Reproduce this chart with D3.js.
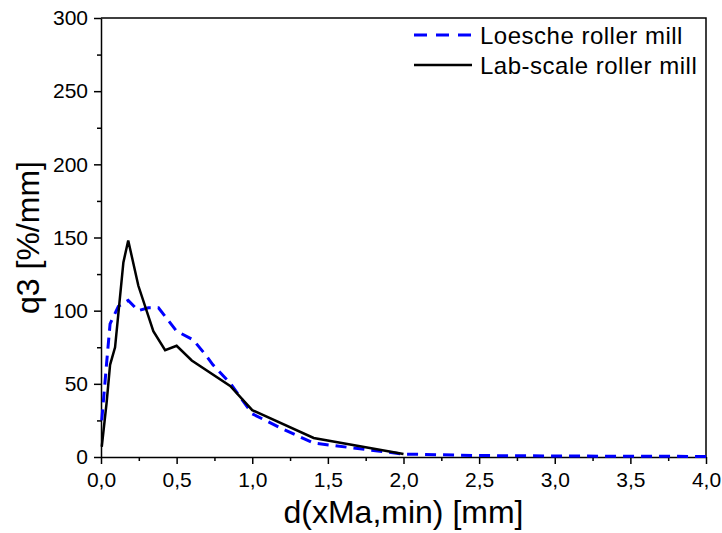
<!DOCTYPE html>
<html>
<head>
<meta charset="utf-8">
<script src="https://cdn.jsdelivr.net/npm/d3@7"></script>
<style>
	body { margin: 0; background: #fff; }
	svg text { font-family: "Liberation Sans", Arial, sans-serif; fill: #000; }
</style>
</head>
<body>
<div id="chart"></div>
<script>

// data
// ----------------------------------------

var loesche_d = [0.005, 0.037, 0.06, 0.115, 0.18, 0.247, 0.313, 0.38, 0.5, 0.61, 0.69, 0.74, 0.854, 1.0, 1.185, 1.406, 1.76, 2.0, 2.5, 3.0, 3.5, 4.0];
var loesche_q = [25, 64, 91, 103, 107, 100, 102, 102, 86, 80, 70, 63, 50.5, 29.5, 20, 9.5, 5, 2, 1, 0.7, 0.5, 0.4];

var lab_d = [0.005, 0.037, 0.06, 0.093, 0.148, 0.18, 0.247, 0.346, 0.424, 0.5, 0.6, 0.854, 1.0, 1.406, 2.0];
var lab_q = [7, 37, 63, 75, 133, 148, 117, 86, 73, 76, 66, 48.5, 32, 13, 2];

var x_ticks = [0, 0.5, 1, 1.5, 2, 2.5, 3, 3.5, 4];
var y_ticks = [0, 50, 100, 150, 200, 250, 300];

var series = [
	{name: "Loesche roller mill", d: loesche_d, q: loesche_q, color: "#0000ff", dash: "11,7", width: 3},
	{name: "Lab-scale roller mill", d: lab_d, q: lab_q, color: "#000000", dash: null, width: 2.5}
];

// main variables
// ----------------------------------------

var width = 722,
	height = 533;

var margin = {top: 18, right: 16, bottom: 76, left: 101};

dataviz();

function dataviz(){

	var svg = d3.select("#chart")
		.append("svg")
		.attr("width", width)
		.attr("height", height)

	var x = d3.scaleLinear().domain([0, 4]).range([margin.left, width - margin.right]);
	var y = d3.scaleLinear().domain([0, 300]).range([height - margin.bottom, margin.top]);

	var comma = function(v){ return d3.format(".1f")(v).replace(".", ","); }

	// minor ticks
	var x_minor = d3.range(0.25, 4, 0.5);
	var y_minor = d3.range(25, 300, 50);

	svg.append("g")
		.attr("transform", "translate(0," + y(0) + ")")
		.call(d3.axisBottom(x).tickValues(x_minor).tickSize(4).tickFormat(""))
		.call(function(g){ g.select(".domain").remove(); })
		.selectAll("line").attr("stroke-width", 1.5)

	svg.append("g")
		.attr("transform", "translate(" + x(0) + ",0)")
		.call(d3.axisLeft(y).tickValues(y_minor).tickSize(4).tickFormat(""))
		.call(function(g){ g.select(".domain").remove(); })
		.selectAll("line").attr("stroke-width", 1.5)

	// major axes
	var xa = svg.append("g")
		.attr("class", "x_axis")
		.attr("transform", "translate(0," + y(0) + ")")
		.call(d3.axisBottom(x).tickValues(x_ticks).tickSize(7).tickSizeOuter(0).tickPadding(8).tickFormat(comma))
	xa.selectAll("text").attr("font-size", 21)
	xa.selectAll("line").attr("stroke-width", 1.5)
	xa.select(".domain").attr("stroke-width", 1.5)

	var ya = svg.append("g")
		.attr("class", "y_axis")
		.attr("transform", "translate(" + x(0) + ",0)")
		.call(d3.axisLeft(y).tickValues(y_ticks).tickSize(7).tickSizeOuter(0).tickPadding(6))
	ya.selectAll("text").attr("font-size", 21)
	ya.selectAll("line").attr("stroke-width", 1.5)
	ya.select(".domain").attr("stroke-width", 1.5)

	// frame top / right
	svg.append("path")
		.attr("d", "M" + x(0) + "," + y(300) + "H" + x(4) + "V" + y(0))
		.attr("fill", "none")
		.attr("stroke", "#000")
		.attr("stroke-width", 1.5)

	// lines
	var line = d3.line()
		.x(function(d){ return x(d[0]); })
		.y(function(d){ return y(d[1]); })

	var plot = svg.append("g").attr("id", "d3_plot")

	series.forEach(function(s){
		var pts = s.d.map(function(v, i){ return [v, s.q[i]]; });
		plot.append("path")
			.datum(pts)
			.attr("d", line)
			.attr("fill", "none")
			.attr("stroke", s.color)
			.attr("stroke-width", s.width)
			.attr("stroke-dasharray", s.dash)
			.attr("stroke-linejoin", "miter")
	})

	// legend
	var legend = svg.append("g").attr("class", "legend")
	series.forEach(function(s, i){
		var ly = 35 + i * 30;
		legend.append("line")
			.attr("x1", 414).attr("x2", 472)
			.attr("y1", ly).attr("y2", ly)
			.attr("stroke", s.color)
			.attr("stroke-width", s.width)
			.attr("stroke-dasharray", s.dash ? "13,9" : null)
		legend.append("text")
			.attr("x", 480)
			.attr("y", ly + 8.5)
			.attr("font-size", 24)
			.attr("letter-spacing", 0.5)
			.text(s.name)
	})

	// axis titles
	svg.append("text")
		.attr("x", (x(0) + x(4)) / 2)
		.attr("y", 523)
		.attr("text-anchor", "middle")
		.attr("font-size", 32)
		.text("d(xMa,min) [mm]")

	svg.append("text")
		.attr("transform", "translate(39," + ((y(0) + y(300)) / 2) + ") rotate(-90)")
		.attr("text-anchor", "middle")
		.attr("font-size", 32)
		.text("q3 [%/mm]")
}
</script>
</body>
</html>
